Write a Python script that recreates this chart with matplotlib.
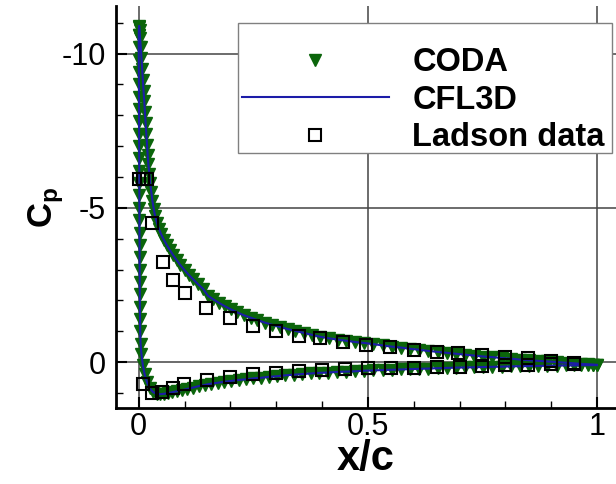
import numpy as np
import matplotlib.pyplot as plt
from matplotlib.patches import Rectangle

plt.rcParams['font.family'] = ['Liberation Sans', 'DejaVu Sans']
plt.rcParams['mathtext.fontset'] = 'custom'
plt.rcParams['mathtext.rm'] = 'Liberation Sans'
plt.rcParams['mathtext.bf'] = 'Liberation Sans:bold'

# %% data
# CODA, upper (suction) surface, leading edge -> trailing edge
coda_up_x = [0.0, 0.0005, 0.001, 0.002, 0.003, 0.0045, 0.006, 0.0075, 0.009, 0.0105,
             0.012, 0.0135, 0.015, 0.0165, 0.018, 0.0195, 0.021, 0.023, 0.025, 0.0275,
             0.030, 0.033, 0.036, 0.040, 0.044, 0.049, 0.055, 0.061, 0.068, 0.075,
             0.083, 0.091, 0.100, 0.109, 0.119, 0.129, 0.140, 0.151, 0.163, 0.175,
             0.188, 0.201, 0.215, 0.229, 0.244, 0.259, 0.275, 0.291, 0.308, 0.325,
             0.342, 0.360, 0.378, 0.396, 0.415, 0.434, 0.453, 0.472, 0.492, 0.512,
             0.532, 0.552, 0.572, 0.592, 0.612, 0.632, 0.652, 0.672, 0.692, 0.712,
             0.732, 0.752, 0.772, 0.792, 0.812, 0.832, 0.852, 0.872, 0.892, 0.912,
             0.932, 0.950, 0.966, 0.980, 0.991, 1.0]
coda_up_cp = [-10.6, -10.85, -10.9, -10.75, -10.5, -10.2, -9.85, -9.5, -9.15, -8.8,
              -8.45, -8.1, -7.75, -7.4, -7.05, -6.72, -6.42, -6.1, -5.8, -5.5,
              -5.22, -4.95, -4.72, -4.5, -4.32, -4.14, -3.96, -3.8, -3.63, -3.47,
              -3.3, -3.14, -2.98, -2.83, -2.68, -2.53, -2.38, -2.15, -2.03, -1.92,
              -1.81, -1.71, -1.61, -1.52, -1.44, -1.36, -1.28, -1.21, -1.14, -1.07,
              -1.01, -0.95, -0.88, -0.82, -0.77, -0.73, -0.69, -0.65, -0.62, -0.58,
              -0.54, -0.5, -0.47, -0.43, -0.4, -0.36, -0.33, -0.3, -0.27, -0.24,
              -0.21, -0.18, -0.16, -0.13, -0.11, -0.08, -0.06, -0.04, -0.02, 0.0,
              0.02, 0.04, 0.06, 0.07, 0.08, 0.09]

# CODA, lower (pressure) surface, leading edge -> trailing edge
coda_lo_x = [0.0, 0.0002, 0.0003, 0.0004, 0.0005, 0.0006, 0.0007, 0.0008, 0.0009, 0.001,
             0.0011, 0.0012, 0.0013, 0.0014, 0.0015, 0.0016, 0.0017, 0.0018, 0.0019, 0.002,
             0.0021, 0.0023, 0.0025, 0.0028, 0.0032, 0.004, 0.006, 0.009, 0.013, 0.018,
             0.024, 0.031, 0.039, 0.047, 0.055, 0.064, 0.073, 0.083, 0.094, 0.106,
             0.118, 0.131, 0.144, 0.158, 0.172, 0.187, 0.202, 0.218, 0.234, 0.250,
             0.267, 0.284, 0.302, 0.320, 0.338, 0.356, 0.375, 0.394, 0.413, 0.432,
             0.452, 0.472, 0.492, 0.512, 0.532, 0.552, 0.572, 0.592, 0.612, 0.632,
             0.652, 0.672, 0.692, 0.712, 0.732, 0.752, 0.772, 0.792, 0.812, 0.832,
             0.852, 0.872, 0.892, 0.912, 0.932, 0.950, 0.966, 0.980, 0.991, 1.0]
coda_lo_cp = [-10.6, -10.2, -9.8, -9.4, -9.0, -8.6, -8.2, -7.8, -7.4, -7.0,
              -6.6, -6.2, -5.8, -5.4, -5.0, -4.6, -4.2, -3.8, -3.4, -3.0,
              -2.6, -2.2, -1.8, -1.4, -1.0, -0.6, -0.25, 0.1, 0.4, 0.65,
              0.85, 0.97, 1.03, 1.04, 1.03, 1.01, 0.98, 0.95, 0.91, 0.87,
              0.83, 0.78, 0.74, 0.7, 0.67, 0.64, 0.61, 0.58, 0.56, 0.53,
              0.51, 0.48, 0.46, 0.43, 0.41, 0.39, 0.37, 0.35, 0.34, 0.32,
              0.31, 0.3, 0.28, 0.27, 0.26, 0.25, 0.24, 0.23, 0.22, 0.21,
              0.2, 0.19, 0.18, 0.175, 0.17, 0.16, 0.155, 0.15, 0.14, 0.135,
              0.13, 0.125, 0.12, 0.115, 0.11, 0.11, 0.1, 0.1, 0.1, 0.1]

# CFL3D sits on top of CODA; traced along the same surface points
cfl3d_x = coda_lo_x[::-1] + coda_up_x
cfl3d_cp = coda_lo_cp[::-1] + coda_up_cp

# Ladson experiment
ladson_up_x = [0.0, 0.009, 0.019, 0.028, 0.052, 0.075, 0.1, 0.146, 0.2, 0.25, 0.3, 0.35,
               0.395, 0.446, 0.497, 0.548, 0.6, 0.65, 0.697, 0.75, 0.8, 0.85, 0.9, 0.95]
ladson_up_cp = [-5.95, -5.95, -5.95, -4.5, -3.24, -2.65, -2.23, -1.74, -1.42, -1.16, -1.0, -0.86,
                -0.77, -0.65, -0.55, -0.48, -0.39, -0.32, -0.29, -0.23, -0.17, -0.12, -0.04, 0.03]
ladson_lo_x = [0.009, 0.028, 0.05, 0.074, 0.098, 0.148, 0.2, 0.25, 0.3, 0.35, 0.4, 0.45,
               0.5, 0.55, 0.6, 0.65, 0.7, 0.75, 0.8, 0.85, 0.9, 0.95]
ladson_lo_cp = [0.71, 1.0, 0.97, 0.84, 0.71, 0.58, 0.48, 0.4, 0.34, 0.29, 0.26, 0.24,
                0.2, 0.2, 0.18, 0.16, 0.15, 0.13, 0.11, 0.09, 0.07, 0.05]

labels = ['CODA', 'CFL3D', 'Ladson data']

# %%
fig = plt.figure(figsize=(6.16, 4.84), dpi=100)
ax = fig.add_axes([0.188, 0.157, 0.812, 0.831])

green = '#0b650b'
ax.plot(coda_up_x + coda_lo_x, coda_up_cp + coda_lo_cp, 'v', color=green, markersize=8.5,
        linestyle='none', label=labels[0], zorder=3)
ax.plot(cfl3d_x, cfl3d_cp, color='#1c1ca8', linewidth=1.5, label=labels[1], zorder=4)
ax.plot(ladson_up_x + ladson_lo_x, ladson_up_cp + ladson_lo_cp, 's', markerfacecolor='none',
        markeredgecolor='black', markeredgewidth=1.5, markersize=9, linestyle='none',
        label=labels[2], zorder=5)

ax.set_xlim(-0.05, 1.0415)
ax.set_ylim(1.49, -11.55)
ax.set_xticks([0, 0.5, 1])
ax.set_xticklabels(['0', '0.5', '1'])
ax.set_yticks([-10, -5, 0])
ax.set_yticklabels(['-10', '-5', '0'])
ax.set_xticks(np.arange(0.1, 1.0, 0.1), minor=True)
ax.set_yticks([-11, -9, -8, -7, -6, -4, -3, -2, -1, 1], minor=True)
ax.tick_params(which='major', direction='in', length=8, width=1.5, labelsize=22)
ax.tick_params(axis='y', which='major', pad=7)
ax.tick_params(axis='x', which='major', pad=3)
ax.tick_params(which='minor', direction='in', length=5, width=1)
ax.grid(True, which='major', color='#444444', linewidth=1.1)
ax.set_axisbelow(True)

for side in ['top', 'right']:
    ax.spines[side].set_visible(False)
for side in ['left', 'bottom']:
    ax.spines[side].set_linewidth(2)

ax.set_xlabel('x/c', fontsize=30, fontweight='bold', labelpad=-2)
ax.set_ylabel(r'$\mathbf{C}_\mathbf{p}$', fontsize=25, labelpad=-3)

# legend box drawn by hand, entries placed inside it
box = Rectangle((238 / 616, 1 - 153 / 484), 374 / 616, 130 / 484, transform=fig.transFigure,
                facecolor='white', edgecolor='#808080', linewidth=1, zorder=9, clip_on=False)
ax.add_patch(box)
leg = ax.legend(loc='upper left', bbox_to_anchor=(242 / 616, 1 - 47 / 484),
                bbox_transform=fig.transFigure, frameon=False,
                prop={'weight': 'bold', 'size': 23.5},
                handlelength=4.5, handletextpad=0.72, labelspacing=0.2,
                borderpad=0, borderaxespad=0)
leg.set_zorder(10)

plt.savefig('out.png', dpi=100)
